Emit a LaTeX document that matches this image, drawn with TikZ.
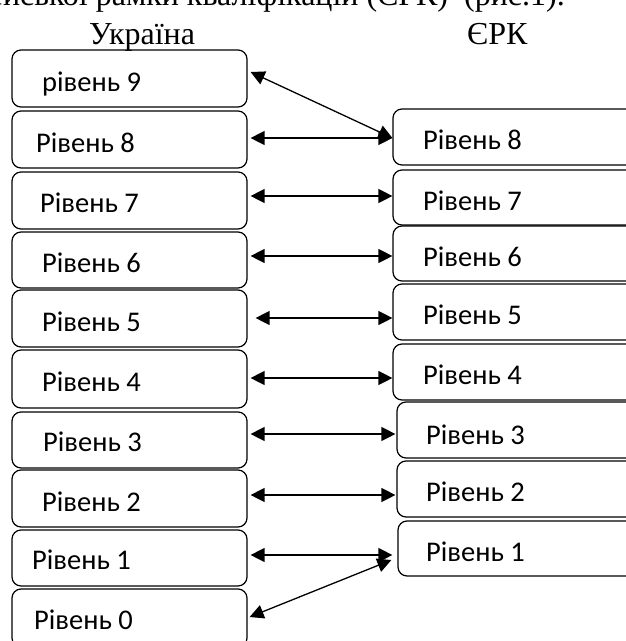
\documentclass[tikz,border=0pt]{standalone}
\usepackage{fontspec}
\setmainfont{Liberation Serif}
\newfontfamily\boxfont{Carlito}
\usetikzlibrary{arrows.meta,calc}
\begin{document}
\begin{tikzpicture}[x=1pt,y=-1pt,
  lvbox/.style={draw, line width=1.2pt, rounded corners=9pt, inner sep=0pt},
  lvtext/.style={anchor=base west, inner sep=0pt, font=\boxfont\fontsize{28.5}{34}\selectfont},
  head/.style={inner sep=0pt, font=\fontsize{32}{38}\selectfont},
  link/.style={line width=1.3pt, {Triangle[length=14pt,width=14pt]}-{Triangle[length=14pt,width=14pt]}}]
\useasboundingbox (0,0) rectangle (626,641);
\clip (0,0) rectangle (626,641);

% header
\node[head, anchor=base east] (top) at (565,5) {Європейської рамки кваліфікацій (ЄРК)\ \ (рис.1).};
\node[head, anchor=base west] (hUA) at (89,44) {Україна};
\node[head, anchor=base west] (hEU) at (467,44) {ЄРК};

% left column (Україна)
\node[lvbox, minimum width=235pt, minimum height=57pt] (L9) at (129.5,78.5) {};
\node[lvbox, minimum width=235pt, minimum height=57pt] (L8) at (129.5,139.5) {};
\node[lvbox, minimum width=235pt, minimum height=57pt] (L7) at (129.5,200.5) {};
\node[lvbox, minimum width=235pt, minimum height=56pt] (L6) at (129.5,260) {};
\node[lvbox, minimum width=235pt, minimum height=57pt] (L5) at (129.5,318.5) {};
\node[lvbox, minimum width=235pt, minimum height=58pt] (L4) at (129.5,379) {};
\node[lvbox, minimum width=235pt, minimum height=56pt] (L3) at (129.5,440) {};
\node[lvbox, minimum width=235pt, minimum height=57pt] (L2) at (129.5,498.5) {};
\node[lvbox, minimum width=235pt, minimum height=56pt] (L1) at (129.5,558) {};
\node[lvbox, minimum width=235pt, minimum height=58pt] (L0) at (129.5,618) {};

\node[lvtext] (tL9) at (42,91) {рівень 9};
\node[lvtext] (tL8) at (36,152) {Рівень 8};
\node[lvtext] (tL7) at (40,212) {Рівень 7};
\node[lvtext] (tL6) at (42,272) {Рівень 6};
\node[lvtext] (tL5) at (42,331) {Рівень 5};
\node[lvtext] (tL4) at (42,391) {Рівень 4};
\node[lvtext] (tL3) at (43,451) {Рівень 3};
\node[lvtext] (tL2) at (42,511) {Рівень 2};
\node[lvtext] (tL1) at (32,569) {Рівень 1};
\node[lvtext] (tL0) at (34,629) {Рівень 0};

% right column (ЄРК)
\node[lvbox, minimum width=267pt, minimum height=56pt] (R8) at (526.5,137) {};
\node[lvbox, minimum width=267pt, minimum height=55pt] (R7) at (526.5,197.5) {};
\node[lvbox, minimum width=267pt, minimum height=55pt] (R6) at (526.5,253.5) {};
\node[lvbox, minimum width=267pt, minimum height=56pt] (R5) at (526.5,312) {};
\node[lvbox, minimum width=267pt, minimum height=56pt] (R4) at (526.5,372) {};
\node[lvbox, minimum width=263pt, minimum height=56pt] (R3) at (528.5,430) {};
\node[lvbox, minimum width=263pt, minimum height=56pt] (R2) at (528.5,489) {};
\node[lvbox, minimum width=262pt, minimum height=55pt] (R1) at (529,548.5) {};

\node[lvtext] (tR8) at (423,149) {Рівень 8};
\node[lvtext] (tR7) at (423,210) {Рівень 7};
\node[lvtext] (tR6) at (423,266) {Рівень 6};
\node[lvtext] (tR5) at (423,324) {Рівень 5};
\node[lvtext] (tR4) at (423,384) {Рівень 4};
\node[lvtext] (tR3) at (426,444) {Рівень 3};
\node[lvtext] (tR2) at (426,501) {Рівень 2};
\node[lvtext] (tR1) at (426,561) {Рівень 1};

% connectors
\draw[link] ($(L9.east)+(3,-6.5)$) -- ($(R8.west)+(0,1)$);
\draw[link] ($(L8.east)+(3,-1.5)$) -- ($(R8.west)+(0,1)$);
\draw[link] ($(L7.east)+(3,-4.5)$) -- ($(R7.west)+(0,-1.5)$);
\draw[link] ($(L6.east)+(3,-4)$) -- ($(R6.west)+(0,2.5)$);
\draw[link] ($(L5.east)+(8,-0.5)$) -- ($(R5.west)+(0,6)$);
\draw[link] ($(L4.east)+(3,-1)$) -- ($(R4.west)+(0,6)$);
\draw[link] ($(L3.east)+(3,-6)$) -- ($(R3.west)+(-1,4)$);
\draw[link] ($(L2.east)+(3,-3.5)$) -- ($(R2.west)+(-1,6)$);
\draw[link] ($(L1.east)+(3,-3)$) -- ($(R1.west)+(-5,6.5)$);
\draw[link] ($(L0.east)+(2,-1)$) -- ($(R1.west)+(-6,11.5)$);
\end{tikzpicture}
\end{document}
